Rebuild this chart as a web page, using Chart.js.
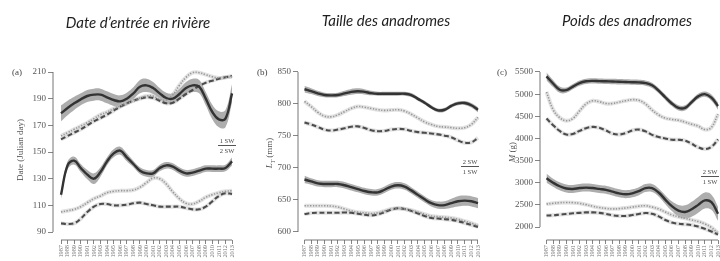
<!DOCTYPE html>
<html><head><meta charset="utf-8">
<script src="https://cdn.jsdelivr.net/npm/chart.js@4.4.1/dist/chart.umd.min.js"></script>
<style>
html,body{margin:0;padding:0;background:#fff;}
#wrap{position:relative;width:720px;height:261px;overflow:hidden;background:#fff;}
canvas{position:absolute;top:0;}
.title{position:absolute;font-family:Lato,sans-serif;font-style:italic;font-size:15px;line-height:18px;color:#1e1e1e;white-space:nowrap;transform:translateX(-50%);}
.lab{position:absolute;font-family:"Liberation Serif",serif;font-size:9px;line-height:10px;color:#444;white-space:nowrap;}
.ytitle{position:absolute;font-family:"Liberation Serif",serif;font-size:9px;line-height:10px;color:#555;white-space:nowrap;transform:translate(-50%,-50%) rotate(-90deg);}
.frac{position:absolute;font-family:"Liberation Serif",serif;font-size:6.5px;line-height:7px;color:#444;text-align:center;}
.frac .num{border-bottom:0.8px solid #555;padding-bottom:1px;}
.frac .den{padding-top:1px;}
</style></head><body>
<div id="wrap">
<canvas id="ca" width="240" height="261" style="left:0px"></canvas>
<canvas id="cb" width="240" height="261" style="left:240px"></canvas>
<canvas id="cc" width="240" height="261" style="left:480px"></canvas>

<div class="title" style="left:138px;top:13px">Date d’entrée en rivière</div>
<div class="title" style="left:386px;top:11px">Taille des anadromes</div>
<div class="title" style="left:627px;top:11px">Poids des anadromes</div>

<div class="lab" style="left:12px;top:67px">(a)</div>
<div class="lab" style="left:257px;top:67px">(b)</div>
<div class="lab" style="left:497px;top:67px">(c)</div>

<div class="ytitle" style="left:20px;top:150px">Date (Julian day)</div>
<div class="ytitle" style="left:271px;top:153px"><i>L</i><sub style="font-size:6px"><i>T</i></sub> (mm)</div>
<div class="ytitle" style="left:512px;top:152px"><i>M</i> (g)</div>

<div class="frac" style="left:218px;top:137px;width:18px"><div class="num">1 SW</div><div class="den">2 SW</div></div>
<div class="frac" style="left:461px;top:158px;width:18px"><div class="num">2 SW</div><div class="den">1 SW</div></div>
<div class="frac" style="left:701px;top:168px;width:18px"><div class="num">2 SW</div><div class="den">1 SW</div></div>
</div>

<script>
// ---------- data ----------
const years = [1987,1988,1989,1990,1991,1992,1993,1994,1995,1996,1997,1998,1999,2000,2001,2002,2003,2004,2005,2006,2007,2008,2009,2010,2011,2012,2013];

// (a) Date d'entrée (Julian day)
const dateTicks = [90,110,130,150,170,190,210];
const date1SWObs = [179,183,186.5,189.5,192,193,193,191,189,188,190,194,199,200,198,194,190.5,190,193.5,198,200,199,190,180,174.5,175,194];
const date1SWCI  = [6,5.5,5,4.5,4.5,4.5,4.5,4.5,4.5,4.5,4.5,4.5,5,5,4.5,4,4,4,4,4.5,5,5,5,5.5,6,6.5,7];
const date1SWDot = [162,164.5,167,169.5,172,175,178,180,182.5,184.5,186.5,188.5,190.5,192,192,189.5,189,193,200,206,209.5,209.5,208,206.5,205.5,206,206.5];
const date1SWDash= [159.5,162,164.5,167,170,173,175.5,178,181,184,186.5,188.5,190,191,190.5,188.5,186.5,187,190,193.5,196.5,199.5,202,203.5,205,206,207];
const date2SWObs = [118,140,143.5,138,133,130,135,143,149,151,146,141,136,134,134,138,140,139,136,134,134.5,136,137.5,137.5,137.5,138,143];
const date2SWCI  = [3,3,3,3,3.5,4,3.5,3,3,3,3,2.5,2.5,2.5,2.5,2.5,2.5,2.5,2.5,2.5,2.5,2.5,2.5,2.5,2.5,2.5,3];
const date2SWDot = [105,106,107,109,112,115,117,119.5,120.5,121,121,121.5,123.5,127,130.5,130,126,120,115,111.5,111,113,116,118,119.5,120.5,121];
const date2SWDash= [96.5,96,96.5,100,105,109,111,111,110,110,110.5,111.5,112,111,110,109,109,109,109,108,107,107,109,113,117,119,118.5];

// (b) Taille L_T (mm)
const sizeTicks = [600,650,700,750,800,850];
const size2SWObs = [823,820,816.5,814,813.5,814,816.5,819,820,819,817,816,816,816,816,816,814,808,802,795,790,791,797,801,801.5,798,791];
const size2SWCI  = [5,4.5,4,3.5,3.5,3.5,4,4.5,4.5,4,3.5,3,3,3,3,3,3,3,3,3,3,3,3,3,3,3.5,4];
const size2SWDot = [804,796,787,781,780,783,788,793,796,795,793,791,790,790.5,791,789,784,778,772,768,765,764,763,762,763,768,779];
const size2SWDash= [771,768,764,760,758.5,760,762,764.5,765,762.5,759,757.5,758,760,761,760.5,758,756,755,754,752.5,750.5,748,743,739.5,740,747];
const size1SWObs = [682,679,676,675,675,675,673,670,667,664,662,662,666,671,673,671,665,658,651,645,642,642,645,648,649,648,645];
const size1SWCI  = [6,5,5,5,5,5,5,5,5,5,5,5,5,5,5,5,5,5,5,5,5.5,6,7,8,8,8,8];
const size1SWDot = [641,641,641,641,640.5,639,636,633,631,630,629,630,633,636,637,636,634,631,628,625,624,623,622,620,617,614,610];
const size1SWDash= [628,629.5,630,630,630,630,630.5,630,628.5,627,626,627.5,631,635,637,636,633,629,625,622,621,620,619,617,614,611,608];

// (c) Poids M (g)
const massTicks = [2000,2500,3000,3500,4000,4500,5000,5500];
const mass2SWObs = [5400,5240,5100,5090,5170,5250,5290,5300,5295,5290,5285,5280,5275,5270,5265,5250,5200,5080,4930,4790,4690,4690,4820,4950,5000,4920,4730];
const mass2SWCI  = [90,80,70,60,60,60,60,60,60,60,60,60,60,60,60,60,60,60,60,60,60,60,60,60,60,70,80];
const mass2SWDot = [5050,4650,4470,4400,4450,4620,4780,4850,4830,4790,4790,4820,4850,4875,4860,4780,4640,4530,4460,4430,4410,4370,4320,4280,4200,4250,4550];
const mass2SWDash= [4450,4300,4170,4090,4100,4170,4230,4260,4240,4180,4110,4090,4120,4180,4200,4160,4080,4030,4000,3970,3970,3950,3880,3800,3760,3810,3980];
const mass1SWObs = [3100,3000,2920,2870,2860,2880,2890,2880,2860,2840,2800,2760,2740,2760,2810,2880,2880,2780,2620,2470,2370,2340,2400,2500,2600,2560,2300];
const mass1SWCI  = [100,90,90,90,90,90,90,90,90,90,90,90,90,90,90,90,90,90,100,110,130,150,170,180,180,170,160];
const mass1SWDot = [2520,2535,2550,2555,2550,2535,2505,2470,2440,2420,2410,2415,2430,2450,2470,2480,2450,2410,2340,2275,2230,2195,2160,2125,2070,1990,1860];
const mass1SWDash= [2260,2265,2280,2295,2310,2320,2330,2330,2320,2295,2265,2250,2250,2270,2295,2315,2300,2240,2160,2100,2075,2060,2045,2010,1960,1900,1830];

// ---------- drawing ----------
const BAND = 'rgba(105,105,105,0.55)';
const HALO = 'rgba(190,190,190,0.45)';
const AXIS = '#666';

const axisLines = {
  id: 'axisLines',
  afterDraw(chart) {
    const {ctx, chartArea, scales} = chart;
    const x = scales.x, y = scales.y;
    ctx.save();
    ctx.strokeStyle = AXIS; ctx.lineWidth = 0.9;
    const yt = y.ticks, xt = x.ticks;
    ctx.beginPath();
    ctx.moveTo(chartArea.left, y.getPixelForValue(yt[0].value));
    ctx.lineTo(chartArea.left, y.getPixelForValue(yt[yt.length-1].value));
    ctx.moveTo(x.getPixelForValue(xt[0].value), chartArea.bottom);
    ctx.lineTo(x.getPixelForValue(xt[xt.length-1].value), chartArea.bottom);
    ctx.stroke();
    ctx.restore();
  }
};

function build(id, p) {
  const pts = arr => arr.map((v, i) => ({x: years[i], y: v}));
  const ds = [];
  p.groups.forEach(g => {
    ds.push({data: g.obs.map((v,i)=>({x: years[i], y: v - g.ci[i]})), borderColor:'rgba(0,0,0,0)', borderWidth:0, pointRadius:0, tension:0.4, fill:false, order:3});
    ds.push({data: g.obs.map((v,i)=>({x: years[i], y: v + g.ci[i]})), borderColor:'rgba(0,0,0,0)', borderWidth:0, pointRadius:0, tension:0.4, fill:'-1', backgroundColor:BAND, order:3});
  });
  p.groups.forEach(g => {
    ds.push({data: pts(g.dot), borderColor:HALO, borderWidth:4, pointRadius:0, tension:0.4, fill:false, order:2});
    ds.push({data: pts(g.dash), borderColor:HALO, borderWidth:4, pointRadius:0, tension:0.4, fill:false, order:2});
  });
  p.groups.forEach(g => {
    ds.push({data: pts(g.dot), borderColor:'#979797', borderWidth:1.6, borderDash:[1.3,1.5], pointRadius:0, tension:0.4, fill:false, order:1});
    ds.push({data: pts(g.dash), borderColor:'#4c4c4c', borderWidth:2.1, borderDash:[5,2.5], pointRadius:0, tension:0.4, fill:false, order:1});
    ds.push({data: pts(g.obs), borderColor:'#333333', borderWidth:2.4, pointRadius:0, tension:0.4, fill:false, order:0});
  });
  return new Chart(document.getElementById(id), {
    type: 'line',
    data: {datasets: ds},
    plugins: [axisLines],
    options: {
      responsive: false, animation: false, devicePixelRatio: 1,
      layout: {padding: {left: 0, right: p.padR, top: 65, bottom: 0}},
      plugins: {legend: {display: false}, tooltip: {enabled: false}, filler: {drawTime: 'beforeDatasetsDraw'}},
      scales: {
        x: {
          type: 'linear', min: p.xmin, max: p.xmax,
          afterBuildTicks: s => { s.ticks = years.map(v => ({value: v})); },
          afterFit: s => { s.height = 21; s.paddingLeft = 0; s.paddingRight = 0; },
          grid: {display: true, drawOnChartArea: false, drawTicks: true, tickLength: 4, color: AXIS, lineWidth: 0.8},
          border: {display: false},
          ticks: {autoSkip: false, minRotation: 90, maxRotation: 90, padding: 1, color: '#7a7a7a',
                  font: {family: '"Liberation Serif", serif', size: 6.3}, callback: v => String(v)}
        },
        y: {
          min: p.ymin, max: p.ymax,
          afterBuildTicks: s => { s.ticks = p.yTicks.map(v => ({value: v})); },
          afterFit: s => { s.width = p.yWidth; s.paddingTop = 0; s.paddingBottom = 0; },
          grid: {display: true, drawOnChartArea: false, drawTicks: true, tickLength: 5, color: AXIS, lineWidth: 0.8},
          border: {display: false},
          ticks: {padding: 2, color: '#555', font: {family: '"Liberation Serif", serif', size: 9}, callback: v => String(v)}
        }
      }
    }
  });
}

build('ca', {
  xmin: 1985.78, xmax: 2013.6, padR: 4, yWidth: 53, ymin: 84, ymax: 215.25, yTicks: dateTicks,
  groups: [
    {obs: date1SWObs, ci: date1SWCI, dot: date1SWDot, dash: date1SWDash},
    {obs: date2SWObs, ci: date2SWCI, dot: date2SWDot, dash: date2SWDash}
  ]
});
build('cb', {
  xmin: 1986.03, xmax: 2013.3, padR: 0, yWidth: 58, ymin: 587.5, ymax: 860.9, yTicks: sizeTicks,
  groups: [
    {obs: size2SWObs, ci: size2SWCI, dot: size2SWDot, dash: size2SWDash},
    {obs: size1SWObs, ci: size1SWCI, dot: size1SWDot, dash: size1SWDash}
  ]
});
build('cc', {
  xmin: 1986.015, xmax: 2013.3, padR: 0, yWidth: 60, ymin: 1707, ymax: 5658, yTicks: massTicks,
  groups: [
    {obs: mass2SWObs, ci: mass2SWCI, dot: mass2SWDot, dash: mass2SWDash},
    {obs: mass1SWObs, ci: mass1SWCI, dot: mass1SWDot, dash: mass1SWDash}
  ]
});
</script>
</body></html>
